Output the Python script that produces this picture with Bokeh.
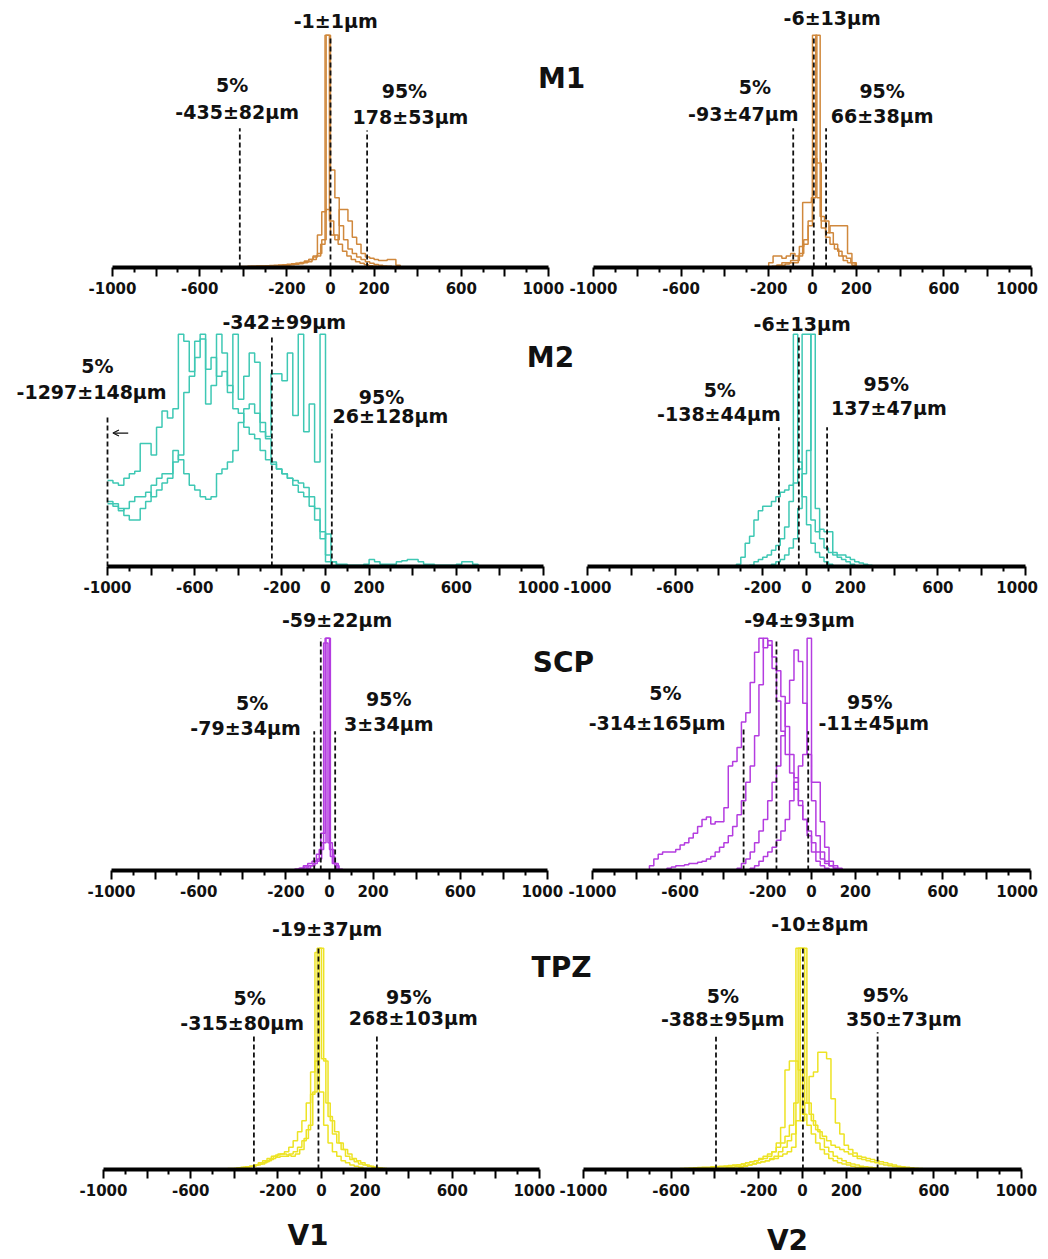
import numpy as np
from bokeh.plotting import figure
from bokeh.layouts import column, row
from bokeh.models import Range1d, FixedTicker, Arrow, OpenHead
from bokeh.core.properties import value
from bokeh.embed import file_html
from bokeh.resources import INLINE

# ---------------------------------------------------------------- data
ROW_NAMES = ["M1", "M2", "SCP", "TPZ"]
COL_NAMES = ["V1", "V2"]
COLORS = {"M1": "#D0883C", "M2": "#3EC8B4", "SCP": "#B43CE0", "TPZ": "#EDE324"}

TICK_VALUES = [-1000, -800, -600, -400, -200, 0, 200, 400, 600, 800, 1000]
TICK_TEXT = ["-1000", "", "-600", "", "-200", "0", "200", "", "600", "", "1000"]
MINOR_TICKS = [-900, -700, -500, -300, -100, 100, 300, 500, 700, 900]

# (mean, sd) in um for 5 %, median, 95 %
M1_V1_STATS = [(-435, 82), (-1, 1), (178, 53)]
M1_V2_STATS = [(-93, 47), (-6, 13), (66, 38)]
M2_V1_STATS = [(-1297, 148), (-342, 99), (26, 128)]
M2_V2_STATS = [(-138, 44), (-6, 13), (137, 47)]
SCP_V1_STATS = [(-79, 34), (-59, 22), (3, 34)]
SCP_V2_STATS = [(-314, 165), (-94, 93), (-11, 45)]
TPZ_V1_STATS = [(-315, 80), (-19, 37), (268, 103)]
TPZ_V2_STATS = [(-388, 95), (-10, 8), (350, 73)]

# dashed markers as drawn (um): 5 %, median, 95 %
M1_V1_MARKS = [-416, 0, 168]
M1_V2_MARKS = [-88, 6, 62]
M2_V1_MARKS = [-1000, -246, 29]
M2_V2_MARKS = [-126, -35, 94]
SCP_V1_MARKS = [-70, -40, 26]
SCP_V2_MARKS = [-310, -160, -15]
TPZ_V1_MARKS = [-310, -14, 254]
TPZ_V2_MARKS = [-395, 2, 343]

# histograms: (first bin edge um, bin width um, normalised counts)
M1_V1_A = (-480, 20, [0.002, 0.003, 0.003, 0.004, 0.004, 0.005, 0.005, 0.006, 0.007, 0.008, 0.009, 0.010, 0.011, 0.012, 0.014, 0.016, 0.018, 0.022, 0.028, 0.035, 0.045, 0.06, 0.12, 1.0, 0.42, 0.30, 0.18, 0.12, 0.08, 0.06, 0.045, 0.035, 0.025, 0.018, 0.013, 0.010, 0.007, 0.005, 0.003, 0.002])
M1_V1_B = (-480, 20, [0.001, 0.002, 0.002, 0.003, 0.003, 0.004, 0.004, 0.005, 0.005, 0.006, 0.007, 0.008, 0.009, 0.010, 0.012, 0.014, 0.017, 0.020, 0.025, 0.035, 0.050, 0.14, 0.24, 0.25, 0.14, 0.12, 0.25, 0.25, 0.20, 0.13, 0.10, 0.06, 0.045, 0.04, 0.035, 0.03, 0.03, 0.035, 0.035, 0.01])
M1_V1_C = (-485, 20, [0.001, 0.001, 0.002, 0.002, 0.003, 0.003, 0.004, 0.004, 0.005, 0.005, 0.006, 0.007, 0.008, 0.009, 0.010, 0.012, 0.014, 0.016, 0.020, 0.025, 0.035, 0.05, 0.10, 1.0, 0.20, 0.14, 0.10, 0.07, 0.05, 0.035, 0.025, 0.018, 0.012, 0.008, 0.005, 0.003])

M1_V2_A = (-200, 20, [0.02, 0.05, 0.05, 0.04, 0.05, 0.06, 0.05, 0.09, 0.10, 0.20, 1.0, 0.45, 0.20, 0.13, 0.10, 0.08, 0.05, 0.03, 0.02, 0.01])
M1_V2_B = (-185, 20, [0.005, 0.01, 0.01, 0.015, 0.02, 0.02, 0.05, 0.28, 0.28, 0.30, 1.0, 0.22, 0.20, 0.15, 0.10, 0.07, 0.05, 0.04, 0.02])
M1_V2_C = (-200, 20, [0.0, 0.0, 0.01, 0.02, 0.02, 0.03, 0.03, 0.06, 0.12, 0.18, 0.47, 0.30, 0.17, 0.15, 0.18, 0.18, 0.18, 0.18, 0.06, 0.02])

M2_V1_A = (-1000, 25, [0.37, 0.36, 0.35, 0.38, 0.40, 0.41, 0.53, 0.53, 0.48, 0.60, 0.67, 0.64, 0.68, 1.0, 0.97, 0.84, 0.97, 1.0, 0.85, 0.90, 0.82, 0.84, 0.78, 0.68, 0.66, 0.60, 0.57, 0.55, 0.50, 0.46, 0.44, 0.42, 0.40, 0.38, 0.37, 0.36, 0.34, 0.30, 0.25, 0.15, 0.02])
M2_V1_B = (-1000, 25, [0.28, 0.27, 0.25, 0.22, 0.20, 0.20, 0.25, 0.28, 0.35, 0.38, 0.40, 0.40, 0.45, 0.48, 0.75, 0.82, 0.90, 0.98, 0.70, 0.78, 1.0, 0.92, 0.75, 1.0, 0.72, 0.82, 0.92, 0.88, 0.62, 0.55, 0.45, 0.42, 0.40, 0.38, 0.35, 0.32, 0.30, 0.26, 0.20, 0.12, 0.14, 0.02])
M2_V1_C = (-1000, 25, [0.27, 0.26, 0.24, 0.25, 0.28, 0.30, 0.30, 0.32, 0.30, 0.33, 0.36, 0.38, 0.50, 0.46, 0.40, 0.35, 0.33, 0.30, 0.29, 0.30, 0.40, 0.42, 0.45, 0.50, 0.62, 0.68, 0.70, 0.66, 0.58, 0.56, 0.83, 0.83, 0.80, 0.92, 0.65, 1.0, 0.58, 0.70, 0.45, 1.0, 0.05, 0.02, 0.01, 0.01, 0.005, 0.005, 0.005, 0.01, 0.03, 0.02, 0.01, 0.01, 0.01, 0.02, 0.025, 0.03, 0.03, 0.02, 0.01, 0.01, 0.005, 0.005, 0.005, 0.005, 0.01, 0.02, 0.02, 0.01])

M2_V2_A = (-320, 20, [0.01, 0.04, 0.10, 0.13, 0.20, 0.24, 0.26, 0.26, 0.28, 0.30, 0.32, 0.33, 0.35, 1.0, 0.45, 0.30, 0.18, 0.10, 0.06, 0.04, 0.02, 0.01])
M2_V2_B = (-260, 20, [0.005, 0.02, 0.03, 0.04, 0.05, 0.07, 0.09, 0.12, 0.17, 0.28, 0.36, 0.42, 1.0, 1.0, 0.20, 0.15, 0.16, 0.15, 0.15, 0.06, 0.05, 0.05, 0.04, 0.03, 0.02, 0.015, 0.01, 0.005])
M2_V2_C = (-160, 20, [0.01, 0.02, 0.03, 0.05, 0.08, 0.12, 0.25, 0.40, 0.50, 1.0, 0.25, 0.12, 0.08, 0.06, 0.05, 0.04, 0.03, 0.02, 0.01])

SCP_V1_A = (-160, 20, [0.005, 0.01, 0.02, 0.03, 0.04, 0.07, 0.16, 1.0, 0.09, 0.03, 0.005])
SCP_V1_B = (-156, 20, [0.005, 0.01, 0.015, 0.02, 0.03, 0.05, 0.12, 1.0, 0.06, 0.02])
SCP_V1_C = (-147, 20, [0.003, 0.005, 0.01, 0.02, 0.04, 0.09, 0.98, 0.12, 0.03])

SCP_V2_A = (-740, 20, [0.02, 0.05, 0.07, 0.08, 0.08, 0.08, 0.09, 0.11, 0.12, 0.14, 0.16, 0.19, 0.22, 0.23, 0.20, 0.21, 0.21, 0.27, 0.45, 0.47, 0.53, 0.64, 0.68, 0.81, 0.94, 1.0, 0.96, 0.99, 0.87, 0.73, 0.60, 0.50, 0.42, 0.35, 0.28, 0.22, 0.17, 0.12, 0.08, 0.05, 0.03, 0.02, 0.01])
SCP_V2_B = (-660, 20, [0.01, 0.015, 0.02, 0.02, 0.025, 0.03, 0.03, 0.035, 0.04, 0.05, 0.06, 0.08, 0.10, 0.12, 0.15, 0.19, 0.24, 0.30, 0.38, 0.45, 0.58, 0.80, 1.0, 0.97, 0.92, 0.86, 0.75, 0.62, 0.50, 0.40, 0.30, 0.22, 0.15, 0.08, 0.04, 0.02, 0.01])
SCP_V2_C = (-340, 20, [0.01, 0.03, 0.05, 0.08, 0.12, 0.17, 0.22, 0.30, 0.38, 0.45, 0.58, 0.72, 0.82, 0.95, 0.90, 0.72, 0.50, 0.30, 0.15, 0.08, 0.04, 0.02, 0.01])
SCP_V2_D = (-280, 20, [0.01, 0.02, 0.04, 0.06, 0.08, 0.10, 0.13, 0.17, 0.22, 0.30, 0.38, 0.45, 0.50, 1.0, 0.38, 0.38, 0.21, 0.10, 0.04, 0.02, 0.01])

TPZ_V1_A = (-520, 20, [0.003, 0.003, 0.003, 0.003, 0.003, 0.003, 0.005, 0.007, 0.01, 0.012, 0.015, 0.02, 0.025, 0.035, 0.045, 0.06, 0.07, 0.07, 0.065, 0.06, 0.07, 0.09, 0.14, 0.20, 0.35, 1.0, 0.50, 0.30, 0.22, 0.17, 0.12, 0.09, 0.07, 0.05, 0.04, 0.03, 0.02, 0.015, 0.01, 0.007, 0.005, 0.003, 0.002])
TPZ_V1_B = (-470, 20, [0.002, 0.003, 0.004, 0.005, 0.007, 0.01, 0.012, 0.015, 0.02, 0.025, 0.03, 0.04, 0.05, 0.055, 0.06, 0.06, 0.07, 0.08, 0.10, 0.13, 0.18, 0.34, 0.49, 1.0, 0.49, 0.24, 0.16, 0.12, 0.09, 0.06, 0.045, 0.035, 0.025, 0.02, 0.015, 0.01, 0.007, 0.004, 0.002])
TPZ_V1_C = (-410, 20, [0.003, 0.005, 0.008, 0.01, 0.015, 0.02, 0.03, 0.04, 0.05, 0.06, 0.065, 0.07, 0.08, 0.10, 0.13, 0.17, 0.22, 0.30, 0.44, 0.98, 0.35, 0.20, 0.12, 0.08, 0.06, 0.04, 0.03, 0.02, 0.015, 0.01, 0.005])

TPZ_V2_A = (-760, 20, [0.003, 0.003, 0.003, 0.003, 0.003, 0.003, 0.003, 0.003, 0.003, 0.003, 0.005, 0.006, 0.007, 0.008, 0.009, 0.01, 0.01, 0.012, 0.013, 0.015, 0.016, 0.018, 0.02, 0.022, 0.025, 0.03, 0.035, 0.04, 0.05, 0.06, 0.07, 0.08, 0.10, 0.12, 0.15, 0.20, 0.30, 1.0, 1.0, 0.30, 0.22, 0.18, 0.14, 0.10, 0.08, 0.06, 0.05, 0.04, 0.03, 0.025, 0.02, 0.015, 0.012, 0.01, 0.008, 0.006, 0.004, 0.003, 0.002])
TPZ_V2_B = (-500, 20, [0.003, 0.004, 0.005, 0.006, 0.008, 0.01, 0.012, 0.014, 0.016, 0.018, 0.02, 0.025, 0.03, 0.035, 0.04, 0.045, 0.05, 0.06, 0.08, 0.12, 0.19, 0.45, 0.49, 0.49, 0.45, 0.25, 0.20, 0.16, 0.12, 0.09, 0.07, 0.05, 0.04, 0.03, 0.025, 0.02, 0.015, 0.01, 0.008, 0.006, 0.004, 0.002])
TPZ_V2_C = (-450, 20, [0.002, 0.003, 0.004, 0.005, 0.006, 0.008, 0.01, 0.012, 0.015, 0.018, 0.02, 0.025, 0.03, 0.035, 0.04, 0.05, 0.06, 0.08, 0.10, 0.13, 0.16, 0.22, 1.0, 0.30, 0.42, 0.44, 0.53, 0.53, 0.50, 0.32, 0.21, 0.16, 0.11, 0.09, 0.075, 0.06, 0.055, 0.05, 0.045, 0.04, 0.035, 0.03, 0.025, 0.02, 0.015, 0.012, 0.01, 0.008, 0.006, 0.004, 0.003, 0.002])
TPZ_V2_D = (-290, 20, [0.01, 0.015, 0.02, 0.025, 0.03, 0.035, 0.04, 0.045, 0.05, 0.06, 0.07, 0.08, 0.10, 1.0, 0.22, 0.30, 0.25, 0.20, 0.17, 0.15, 0.13, 0.11, 0.10, 0.09, 0.08, 0.07, 0.06, 0.05, 0.045, 0.04, 0.035, 0.03, 0.025, 0.02, 0.017, 0.014, 0.011, 0.008, 0.006, 0.004, 0.003, 0.002, 0.001])

DATA = {
    ("M1", "V1"): ([M1_V1_A, M1_V1_B, M1_V1_C], M1_V1_STATS, M1_V1_MARKS),
    ("M1", "V2"): ([M1_V2_A, M1_V2_B, M1_V2_C], M1_V2_STATS, M1_V2_MARKS),
    ("M2", "V1"): ([M2_V1_A, M2_V1_B, M2_V1_C], M2_V1_STATS, M2_V1_MARKS),
    ("M2", "V2"): ([M2_V2_A, M2_V2_B, M2_V2_C], M2_V2_STATS, M2_V2_MARKS),
    ("SCP", "V1"): ([SCP_V1_A, SCP_V1_B, SCP_V1_C], SCP_V1_STATS, SCP_V1_MARKS),
    ("SCP", "V2"): ([SCP_V2_A, SCP_V2_B, SCP_V2_C, SCP_V2_D], SCP_V2_STATS, SCP_V2_MARKS),
    ("TPZ", "V1"): ([TPZ_V1_A, TPZ_V1_B, TPZ_V1_C], TPZ_V1_STATS, TPZ_V1_MARKS),
    ("TPZ", "V2"): ([TPZ_V2_A, TPZ_V2_B, TPZ_V2_C, TPZ_V2_D], TPZ_V2_STATS, TPZ_V2_MARKS),
}

# ---------------------------------------------------------------- layout
FONT = "DejaVu Sans"
INK = "#111111"
S_L = 436 / 2000          # px per um, left panels
S_R = 438 / 2000          # px per um, right panels
UNIT = 233                # px for a normalised count of 1
FRAME_END_L = 615         # page x where left canvases end
CANVAS_END = 1048
PAD_R = 30

ROW_GEOM = {
    "M1": dict(top=0, axis=268, L0=112, R0=593, bottom=32),
    "M2": dict(top=300, axis=567, L0=107, R0=587, bottom=32),
    "SCP": dict(top=599, axis=871, L0=111, R0=592, bottom=32),
    "TPZ": dict(top=903, axis=1183, L0=103, R0=583, bottom=76),
}

# marker heights and text anchors (x um, y normalised)
PANEL_LAYOUT = {
    ("M1", "V1"): dict(tops=[0.60, 0.99, 0.59], txt=[(-451, 0.785), (-428, 0.668), (339, 0.761), (367, 0.647), (24, 1.061)]),
    ("M1", "V2"): dict(tops=[0.60, 0.99, 0.60], txt=[(-263, 0.778), (-316, 0.661), (318, 0.761), (318, 0.654), (90, 1.075)]),
    ("M2", "V1"): dict(tops=[0.65, 0.99, 0.59], txt=[(-1046, 0.863), (-1073, 0.751), (257, 0.731), (298, 0.648), (-189, 1.053)]),
    ("M2", "V2"): dict(tops=[0.60, 0.99, 0.60], txt=[(-396, 0.760), (-400, 0.655), (364, 0.788), (376, 0.681), (-20, 1.046)]),
    ("SCP", "V1"): dict(tops=[0.60, 1.00, 0.60], txt=[(-355, 0.720), (-385, 0.612), (272, 0.737), (272, 0.631), (35, 1.080)]),
    ("SCP", "V2"): dict(tops=[0.61, 0.99, 0.60], txt=[(-667, 0.763), (-705, 0.637), (266, 0.727), (284, 0.634), (-55, 1.080)]),
    ("TPZ", "V1"): dict(tops=[0.61, 1.00, 0.61], txt=[(-330, 0.774), (-364, 0.664), (400, 0.778), (421, 0.685), (26, 1.086)]),
    ("TPZ", "V2"): dict(tops=[0.60, 1.00, 0.62], txt=[(-364, 0.782), (-364, 0.678), (379, 0.788), (463, 0.678), (79, 1.107)]),
}
ROW_LABEL_POS = {"M1": (1060, 0.815), "M2": (1032, 0.901), "SCP": (1073, 0.897), "TPZ": (1101, 0.914)}


def steps(start, width, heights, closed_left=True):
    h = np.asarray(heights, float)
    edges = start + width * np.arange(len(h) + 1)
    xs = np.repeat(edges, 2)
    ys = np.concatenate([[0.0], np.repeat(h, 2), [0.0]])
    if not closed_left:
        xs, ys = xs[1:], ys[1:]
    return xs, ys


def fmt(ms):
    return f"{ms[0]}\u00b1{ms[1]}\u03bcm"


def make_panel(rname, cname):
    g = ROW_GEOM[rname]
    hists, stats, marks = DATA[(rname, cname)]
    lay = PANEL_LAYOUT[(rname, cname)]
    color = COLORS[rname]
    frame_h = g["axis"] - g["top"]
    if cname == "V1":
        x0 = -1000 - g["L0"] / S_L
        x1 = -1000 + (FRAME_END_L - g["L0"]) / S_L
        width = FRAME_END_L
        mbr = 0
    else:
        x0 = -1000 - PAD_R / S_R
        x1 = 1000
        mbr = CANVAS_END - (g["R0"] + 438)
        width = PAD_R + 438 + mbr
    p = figure(width=width, height=frame_h + g["bottom"],
               x_range=Range1d(x0, x1), y_range=Range1d(0, frame_h / UNIT),
               output_backend="svg", toolbar_location=None, y_axis_location=None,
               min_border_left=0, min_border_right=mbr, min_border_top=0,
               min_border_bottom=g["bottom"])
    p.outline_line_color = None
    p.grid.visible = False
    p.background_fill_alpha = 0
    p.border_fill_alpha = 0

    closed = not (rname == "M2" and cname == "V1")
    for (st, w, hh) in hists:
        xs, ys = steps(st, w, hh, closed_left=closed)
        p.line(xs, ys, line_color=color, line_width=1.5)

    p.segment(x0=marks, y0=[0, 0, 0], x1=marks, y1=lay["tops"],
              line_color=INK, line_width=1.8, line_dash="5 3")

    texts = ["5%", fmt(stats[0]), "95%", fmt(stats[2]), fmt(stats[1])]
    p.text(x=[t[0] for t in lay["txt"]], y=[t[1] for t in lay["txt"]], text=texts,
           text_font=value(FONT), text_font_style="bold", text_font_size="19px",
           text_align="center", text_baseline="middle", text_color=INK)

    if cname == "V1":
        lx, ly = ROW_LABEL_POS[rname]
        p.text(x=[lx], y=[ly], text=[rname], text_font=value(FONT),
               text_font_style="bold", text_font_size="28px",
               text_align="center", text_baseline="middle", text_color=INK)

    if rname == "M2" and cname == "V1":
        p.add_layout(Arrow(end=OpenHead(size=6, line_width=1.2, line_color=INK),
                           x_start=-905, y_start=0.575, x_end=-975, y_end=0.575,
                           line_width=1.2, line_color=INK))

    ax = p.xaxis[0]
    ax.bounds = (-1000, 1000)
    ax.ticker = FixedTicker(ticks=TICK_VALUES, minor_ticks=MINOR_TICKS)
    overrides = {v: t for v, t in zip(TICK_VALUES, TICK_TEXT)}
    overrides[1000] = overrides[1000] + "\u2007"   # nudge the end label inward
    ax.major_label_overrides = overrides
    ax.axis_line_width = 4
    ax.axis_line_color = "black"
    ax.major_tick_line_width = 2
    ax.major_tick_line_color = "black"
    ax.major_tick_out = 9
    ax.major_tick_in = 0
    ax.minor_tick_line_width = 2
    ax.minor_tick_line_color = "black"
    ax.minor_tick_out = 5
    ax.minor_tick_in = 0
    ax.major_label_text_font = FONT
    ax.major_label_text_font_style = "bold"
    ax.major_label_text_font_size = "15px"
    ax.major_label_text_color = INK
    ax.major_label_standoff = 3
    if rname == "TPZ":
        ax.axis_label = cname
        ax.axis_label_text_font = FONT
        ax.axis_label_text_font_style = "bold"
        ax.axis_label_text_font_size = "28px"
        ax.axis_label_text_color = INK
        ax.axis_label_standoff = 16 if cname == "V1" else 21
    if cname == "V2":
        p.margin = (0, 0, 0, (g["R0"] - PAD_R) - FRAME_END_L)
    return p


rows = []
for rn in ROW_NAMES:
    rows.append(row(make_panel(rn, "V1"), make_panel(rn, "V2")))
layout = column(*rows)

open("out.html", "w").write(file_html(layout, INLINE))
